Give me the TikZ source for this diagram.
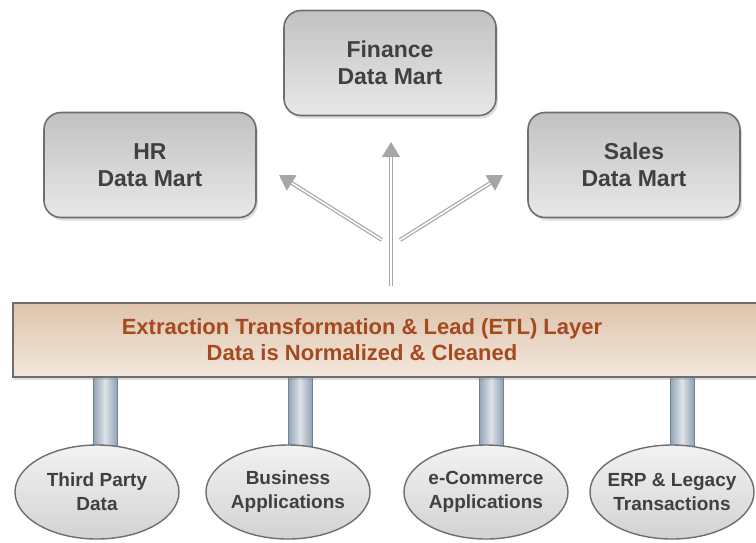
\documentclass[tikz,border=0pt]{standalone}
\usepackage{fontspec}
\setmainfont{Liberation Sans}
\usetikzlibrary{arrows.meta,shadows,shapes.geometric}
\definecolor{martedge}{HTML}{6E6E6E}
\definecolor{etltext}{HTML}{A5491F}
\definecolor{etltop}{HTML}{DEC4AC}
\definecolor{etlbottom}{HTML}{F3E7DC}
\definecolor{pillar}{HTML}{8FA2B4}
\begin{document}
\begin{tikzpicture}[x=1pt,y=-1pt,
		mart/.style={draw=martedge,line width=1.6pt,rounded corners=17pt,
			minimum width=212pt,minimum height=105pt,top color=gray!48,bottom color=gray!18,
			drop shadow={opacity=0.25,shadow xshift=2pt,shadow yshift=-3pt},
			align=center,font=\fontsize{23}{27}\selectfont\bfseries,text=black!75},
		source/.style={ellipse,draw=martedge,line width=1.4pt,minimum width=164pt,minimum height=94pt,
			top color=gray!10,bottom color=gray!35,align=center,inner xsep=-20pt,inner ysep=0pt,
			font=\fontsize{19}{24}\selectfont\bfseries,text=black!75},
		feed/.style={draw=gray!70,line width=1.2pt,double=white,double distance=1.6pt,
			-{Triangle[width=18pt,length=15pt]}}]
		\clip(0,0)rectangle(756,542);
		% data marts
		\node[mart](fin)at(390,63){Finance\\Data Mart};
		\node[mart](hr)at(150,165){HR\\Data Mart};
		\node[mart](sales)at(634,165){Sales\\Data Mart};
		% pillars to the sources
		\foreach \x/\n in {105/third,300/bus,491/ecom,682/erp}{
			\shade[left color=pillar,right color=pillar,middle color=pillar!30]
				(\x-12,370)rectangle(\x+12,452);
			\draw[pillar!80!black,line width=0.4pt](\x-12,370)--(\x-12,452)(\x+12,370)--(\x+12,452);
		}
		% ETL layer
		\node[draw=martedge,line width=1.6pt,minimum width=750pt,minimum height=74pt,
			top color=etltop,bottom color=etlbottom,
			drop shadow={opacity=0.25,shadow xshift=0pt,shadow yshift=-3pt}](etl)at(388,340){};
		\node[align=center,text=etltext,font=\fontsize{22}{26}\selectfont\bfseries](etllabel)
			at(362,340){Extraction Transformation \& Lead (ETL) Layer\\Data is Normalized \& Cleaned};
		% sources
		\node[source](third)at(97,492){Third Party\\Data};
		\node[source](bus)at(288,492){Business\\Applications};
		\node[source](ecom)at(486,492){e-Commerce\\Applications};
		\node[source](erp)at(672,492){ERP \& Legacy\\Transactions};
		% feeds up to the marts
		\coordinate(up)at(391,286);
		\coordinate(upl)at(382,240);
		\coordinate(upr)at(400,240);
		\draw[feed](up)--(391,142);
		\draw[feed](upl)--(279,175);
		\draw[feed](upr)--(503,175);
	\end{tikzpicture}
\end{document}
